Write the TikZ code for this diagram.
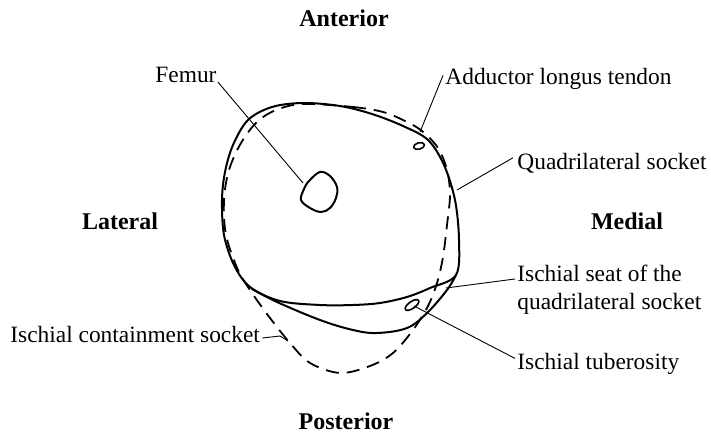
\documentclass[tikz,border=0pt]{standalone}
\usepackage{fontspec}
\setmainfont{Liberation Serif}
\begin{document}
\begin{tikzpicture}[x=0.5pt,y=-0.5pt,
  outline/.style={line width=1pt, line join=round, line cap=round},
  dashline/.style={line width=0.9pt, dash pattern=on 6.5pt off 4pt},
  leader/.style={line width=0.45pt},
  lbl/.style={inner sep=0pt, font=\fontsize{11.7}{14}\selectfont},
  dirlbl/.style={inner sep=0pt, font=\fontsize{12}{14}\selectfont\bfseries}]
\useasboundingbox (0,0) rectangle (711,437);

% quadrilateral socket outline
\draw[outline] plot[smooth cycle, tension=0.55] coordinates {
  (303,103) (340,106) (372,114) (403,126) (428,140) (444,165) (455,200)
  (459,240) (456,275) (430,288) (407,297) (380,303) (353,305) (320,305)
  (280,301) (250,287) (234,265) (224,235) (222,200) (225,172) (233,145)
  (248,120) (272,107)};

% lower wall below the ischial seat
\draw[outline] plot[smooth, tension=0.6] coordinates {
  (252,289) (277,302) (320,320) (353,330) (377,333) (407,328) (427,313)
  (447,290) (456,275)};

% ischial containment socket outline
\draw[dashline] plot[smooth cycle, tension=0.55] coordinates {
  (303,104) (353,107) (383,112) (405,121) (422,131) (438,148) (447,170)
  (450,195) (447,225) (443,257) (437,283) (428,306) (413,330) (393,353)
  (370,366) (340,373) (310,363) (290,343) (270,318) (252,293) (238,270)
  (226,235) (224,200) (229,170) (241,143) (257,122) (276,110)};

% femur
\draw[outline] plot[smooth cycle, tension=0.6] coordinates {
  (301,200) (304,189) (309,181) (320,172) (330,176) (337,187) (336,198)
  (330,208) (321,212) (310,208)};

% adductor longus tendon and ischial tuberosity
\draw[outline, line width=0.8pt] (419,146) ellipse [x radius=2.8pt, y radius=1.6pt, rotate=15];
\draw[outline, line width=0.8pt] (412,305) ellipse [x radius=4pt, y radius=1.7pt, rotate=35];

% leader end points on the drawing
\coordinate (femurpt) at (303,183);
\coordinate (tendonpt) at (420,132);
\coordinate (quadpt) at (457,190);
\coordinate (seatpt) at (446,288);
\coordinate (tuberpt) at (414,306);
\coordinate (contbend) at (280,336);
\coordinate (contpt) at (288,341);

% direction labels
\node[dirlbl] (ant) at (344,18) {Anterior};
\node[dirlbl] (post) at (346,421) {Posterior};
\node[dirlbl] (lat) at (120,221) {Lateral};
\node[dirlbl] (med) at (627,221) {Medial};

% part labels
\node[lbl, anchor=base west] (femurlab) at (155,83) {Femur};
\node[lbl, anchor=base west] (tendonlab) at (445,85) {Adductor longus tendon};
\node[lbl, anchor=base west] (quadlab) at (517,170) {Quadrilateral socket};
\node[lbl, anchor=north west, align=left] (seatlab) at (517,265) {Ischial seat of the\\quadrilateral socket};
\node[lbl, anchor=base west] (contlab) at (10,343) {Ischial containment socket};
\node[lbl, anchor=base west] (tuberlab) at (517,370) {Ischial tuberosity};

% leaders
\draw[leader] (femurlab.base east) ++(1,-1) -- (femurpt);
\draw[leader] ([xshift=-1pt,yshift=2pt]tendonlab.west) -- (tendonpt);
\draw[leader] ([xshift=-2pt,yshift=3pt]quadlab.west) -- (quadpt);
\draw[leader] ([xshift=-1pt,yshift=-7pt]seatlab.north west) -- (seatpt);
\draw[leader] ([xshift=-1pt,yshift=3pt]tuberlab.west) -- (tuberpt);
\draw[leader] ([xshift=1pt,yshift=2.5pt]contlab.base east) -- (contbend) -- (contpt);
\end{tikzpicture}
\end{document}
